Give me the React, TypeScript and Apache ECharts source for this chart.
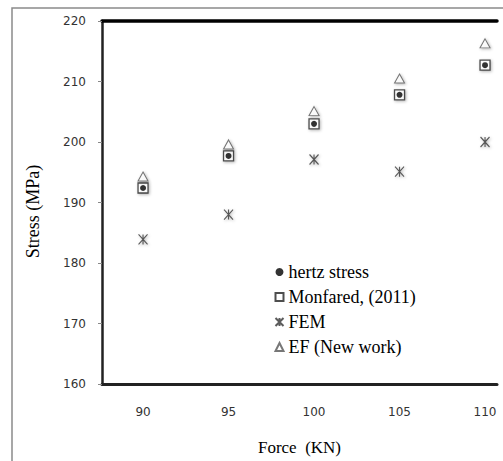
import React, { useEffect, useRef } from "react";
import * as echarts from "echarts";

const forces = [90, 95, 100, 105, 110];
const xTickLabels = [90, 95, 100, 105, 110];
const hertzStress = [192.4, 197.7, 203.0, 207.8, 212.7];
const monfared = [192.4, 197.7, 203.0, 207.8, 212.7];
const fem = [183.9, 188.0, 197.1, 195.1, 200.0];
const efNewWork = [194.3, 199.6, 205.1, 210.5, 216.3];

const pairs = (ys: number[]) => forces.map((f, i) => [f, ys[i]]);

const shadow = {
  shadowBlur: 3,
  shadowColor: "rgba(0,0,0,0.35)",
  shadowOffsetX: 1,
  shadowOffsetY: 1,
};

const serif = "'Liberation Serif', 'Times New Roman', serif";

export default function App() {
  const ref = useRef<HTMLDivElement>(null);
  useEffect(() => {
    if (!ref.current) return;
    const chart = echarts.init(ref.current, null, { renderer: "svg" });
    chart.setOption({
      animation: false,
      backgroundColor: "#fff",
      grid: { left: 102, right: 6, top: 21, bottom: 73 },
      graphic: [
        {
          type: "rect",
          shape: { x: 12, y: 8, width: 700, height: 700 },
          style: { fill: "none", stroke: "#8a8a8a", lineWidth: 1.5 },
          z: -1,
        },
      ],
      legend: {
        orient: "vertical",
        left: 268,
        top: 258,
        itemWidth: 8,
        itemHeight: 8,
        itemGap: 7,
        selectedMode: false,
        textStyle: {
          fontFamily: serif,
          fontSize: 18,
          fontWeight: "normal",
          color: "#000",
        },
        data: ["hertz stress", "Monfared, (2011)", "FEM", "EF (New work)"],
      },
      xAxis: [
        {
          type: "value",
          min: 87.6,
          max: 110.7,
          name: "Force  (KN)",
          nameLocation: "middle",
          nameGap: 55,
          nameTextStyle: {
            fontFamily: serif,
            fontSize: 17,
            color: "#000",
          },
          splitLine: { show: false },
          axisTick: { show: false },
          axisLine: { lineStyle: { color: "#222", width: 3 } },
          axisLabel: {
            customValues: xTickLabels,
            margin: 22,
            fontFamily: "DejaVu Sans",
            fontSize: 12,
            color: "#333",
          },
        },
        {
          type: "value",
          position: "top",
          min: 87.6,
          max: 110.7,
          splitLine: { show: false },
          axisTick: { show: false },
          axisLabel: { show: false },
          axisLine: { lineStyle: { color: "#000", width: 3.5 } },
        },
      ],
      yAxis: {
        type: "value",
        min: 160,
        max: 220,
        interval: 10,
        name: "Stress (MPa)",
        nameLocation: "middle",
        nameGap: 60,
        nameTextStyle: {
          fontFamily: serif,
          fontSize: 18,
          color: "#000",
          padding: [0, 18, 0, 0],
        },
        splitLine: { show: false },
        axisTick: { show: true, length: 4, lineStyle: { color: "#888" } },
        axisLine: { lineStyle: { color: "#222", width: 2.5 } },
        axisLabel: {
          margin: 16,
          fontFamily: "DejaVu Sans",
          fontSize: 12,
          color: "#333",
        },
      },
      series: [
        {
          name: "hertz stress",
          type: "scatter",
          data: pairs(hertzStress),
          symbol: "circle",
          symbolSize: 6,
          z: 5,
          itemStyle: { color: "#000" },
        },
        {
          name: "Monfared, (2011)",
          type: "scatter",
          data: pairs(monfared),
          symbol: "rect",
          symbolSize: 10,
          z: 3,
          itemStyle: {
            color: "#fff",
            borderColor: "#222",
            borderWidth: 1.3,
            ...shadow,
          },
        },
        {
          name: "FEM",
          type: "scatter",
          data: pairs(fem),
          symbol: "path://M0,0L10,10M10,0L0,10M5,0L5,10",
          symbolSize: [9, 10],
          z: 3,
          itemStyle: {
            color: "none",
            borderColor: "#333",
            borderWidth: 1.2,
            ...shadow,
          },
        },
        {
          name: "EF (New work)",
          type: "scatter",
          data: pairs(efNewWork),
          symbol: "triangle",
          symbolSize: [10, 9],
          z: 3,
          itemStyle: {
            color: "#fff",
            borderColor: "#555",
            borderWidth: 1,
            ...shadow,
          },
        },
      ],
    });
    return () => chart.dispose();
  }, []);
  return (
    <div
      ref={ref}
      style={{ position: "absolute", left: 0, top: 0, width: 503, height: 461 }}
    />
  );
}
